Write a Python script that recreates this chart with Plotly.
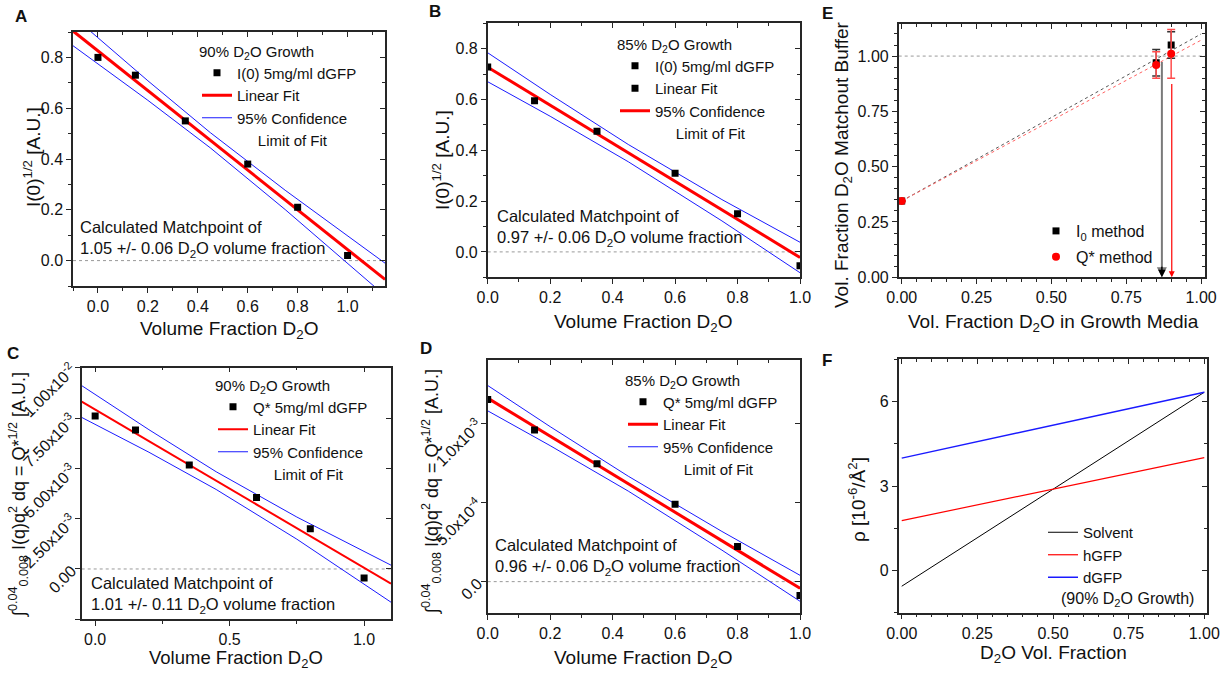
import plotly.graph_objects as go

# ---------------- data ----------------
vol_frac = [0.0, 0.15, 0.35, 0.6, 0.8, 1.0]

# Panel A (90% D2O growth, I(0))
a_pts = [0.80, 0.73, 0.55, 0.38, 0.21, 0.02]
a_fit_x = [-0.1, 0.2, 0.45, 0.75, 1.15]
a_fit = [0.904, 0.669, 0.474, 0.239, -0.074]
a_up = [0.962, 0.708, 0.504, 0.277, -0.010]
a_lo = [0.846, 0.631, 0.444, 0.201, -0.138]

# Panel B (85% D2O growth, I(0))
b_pts = [0.728, 0.595, 0.475, 0.31, 0.15, -0.055]
b_fit_x = [0.0, 0.2, 0.45, 0.75, 1.0]
b_fit = [0.727, 0.577, 0.389, 0.164, -0.022]
b_up = [0.784, 0.620, 0.423, 0.206, 0.038]
b_lo = [0.670, 0.534, 0.355, 0.122, -0.082]

# Panel C (90% D2O growth, Q*)
c_pts = [7.6e-3, 6.9e-3, 5.17e-3, 3.55e-3, 2.0e-3, -0.45e-3]
c_fit_x = [-0.05, 0.2, 0.45, 0.75, 1.1]
c_fit = [8.32e-3, 6.36e-3, 4.39e-3, 2.03e-3, -0.73e-3]
c_up = [9.11e-3, 6.92e-3, 4.83e-3, 2.58e-3, 0.19e-3]
c_lo = [7.53e-3, 5.80e-3, 3.95e-3, 1.48e-3, -1.65e-3]
c_tickvals = [-2.5e-3, 0.0, 2.5e-3, 5.0e-3, 7.5e-3, 1.0e-2]
c_ticktext = ["-2.50x10<sup>-3</sup>", "0.00", "2.50x10<sup>-3</sup>",
              "5.00x10<sup>-3</sup>", "7.50x10<sup>-3</sup>", "1.00x10<sup>-2</sup>"]

# Panel D (85% D2O growth, Q*)
d_pts = [11.5e-4, 9.58e-4, 7.45e-4, 4.89e-4, 2.22e-4, -0.88e-4]
d_fit_x = [0.0, 0.2, 0.45, 0.75, 1.0]
d_fit = [11.59e-4, 9.19e-4, 6.19e-4, 2.58e-4, -0.42e-4]
d_up = [12.39e-4, 9.79e-4, 6.66e-4, 3.17e-4, 0.40e-4]
d_lo = [10.79e-4, 8.59e-4, 5.72e-4, 1.99e-4, -1.24e-4]
d_tickvals = [0.0, 5.0e-4, 1.0e-3]
d_ticktext = ["0.0", "5.0x10<sup>-4</sup>", "1.0x10<sup>-3</sup>"]

# Panel E
e_x = [0.0, 0.85, 0.9]
e_i0 = [0.345, 0.97, 1.05]
e_i0_err = [0.0, 0.06, 0.06]
e_q = [0.345, 0.96, 1.01]
e_q_err = [0.0, 0.06, 0.11]
e_fit_x = [0.0, 1.0]
e_i0_fit = [0.345, 1.10]
e_q_fit = [0.345, 1.072]
e_match_x = [0.869, 0.902]
e_match_top = [0.98, 0.88]

# Panel F
f_x = [0.0, 1.0]
f_solvent = [-0.56, 6.33]
f_hgfp = [1.77, 4.01]
f_dgfp = [3.99, 6.33]

# ---------------- style ----------------
W, H = 1228, 674
FONT = "Liberation Sans, Arial, sans-serif"
AX = "#262626"
RED = "#ff0000"
BLUE = "#1a1aff"


def dx(l, r):
    return [l / W, r / W]


def dy(t, b):
    return [1 - b / H, 1 - t / H]


fig = go.Figure()
layout_axes = {}


def add_panel_axes(k, xdom, ydom, xr, yr, xt, yt):
    xid = "x" if k == 1 else f"x{k}"
    yid = "y" if k == 1 else f"y{k}"
    xo, yo = f"x{k + 6}", f"y{k + 6}"
    common = dict(showgrid=False, zeroline=False, showline=True, linecolor=AX,
                  linewidth=1.5, tickcolor=AX, tickwidth=1.2, ticklen=5, automargin=False,
                  tickfont=dict(size=16, color="#111", family=FONT))

    def build(t, inside):
        d = dict(common)
        d["ticks"] = "inside" if inside else "outside"
        t = dict(t)
        mdt = t.pop("minor", None)
        d.update(t)
        if mdt is not None:
            d["minor"] = dict(ticks="inside" if inside else "outside", ticklen=3,
                              tickcolor=AX, tickwidth=1, dtick=mdt, tick0=0, showgrid=False)
        if inside:
            d["showticklabels"] = False
        return d

    xa = build(xt, False)
    xa.update(domain=xdom, range=xr, anchor=yid)
    ya = build(yt, False)
    ya.update(domain=ydom, range=yr, anchor=xid)
    xa2 = build(xt, True)
    xa2.update(domain=xdom, range=xr, anchor=yid, overlaying=xid, side="top")
    ya2 = build(yt, True)
    ya2.update(domain=ydom, range=yr, anchor=xid, overlaying=yid, side="right")
    layout_axes["xaxis" if k == 1 else f"xaxis{k}"] = xa
    layout_axes["yaxis" if k == 1 else f"yaxis{k}"] = ya
    layout_axes[f"xaxis{k + 6}"] = xa2
    layout_axes[f"yaxis{k + 6}"] = ya2
    fig.add_trace(go.Scatter(x=[None], y=[None], xaxis=xo, yaxis=yo,
                             showlegend=False, hoverinfo="skip"))
    return xid, yid


def fit_panel(xid, yid, leg, fx, fit, up, lo, pts, pts_name, redw, quirky=False):
    fig.add_trace(go.Scatter(x=fx, y=up, mode="lines", line=dict(color=BLUE, width=1),
                             xaxis=xid, yaxis=yid, legend=leg, name="95% Confidence",
                             showlegend=not quirky, legendrank=3))
    fig.add_trace(go.Scatter(x=fx, y=lo, mode="lines", line=dict(color=BLUE, width=1),
                             xaxis=xid, yaxis=yid, showlegend=False))
    fig.add_trace(go.Scatter(x=fx, y=fit, mode="lines", line=dict(color=RED, width=redw),
                             xaxis=xid, yaxis=yid, legend=leg,
                             name="95% Confidence" if quirky else "Linear Fit",
                             legendrank=3 if quirky else 2))
    fig.add_trace(go.Scatter(x=vol_frac, y=pts, mode="markers",
                             marker=dict(symbol="square", size=7, color="black"),
                             xaxis=xid, yaxis=yid, legend=leg, name=pts_name, legendrank=1))
    if quirky:
        fig.add_trace(go.Scatter(x=[None], y=[None], mode="markers",
                                 marker=dict(symbol="square", size=7, color="black"),
                                 xaxis=xid, yaxis=yid, legend=leg, name="Linear Fit",
                                 legendrank=2))
    fig.add_trace(go.Scatter(x=[None], y=[None], mode="lines",
                             line=dict(color="rgba(0,0,0,0)", width=0),
                             xaxis=xid, yaxis=yid, legend=leg,
                             name="\u00a0\u00a0\u00a0\u00a0\u00a0Limit of Fit", legendrank=4))


tick02 = dict(dtick=0.2, tick0=0, tickformat=".1f", minor=0.1)

# Panel A
xa, ya = add_panel_axes(1, dx(73, 385), dy(32, 286), [-0.1, 1.15], [-0.1, 0.9], tick02, tick02)
fit_panel(xa, ya, "legend", a_fit_x, a_fit, a_up, a_lo, a_pts, "I(0) 5mg/ml dGFP", 3)

# Panel B
xb, yb = add_panel_axes(2, dx(487.7, 800), dy(23.3, 277.3), [0, 1], [-0.1, 0.9], tick02, tick02)
fit_panel(xb, yb, "legend2", b_fit_x, b_fit, b_up, b_lo, b_pts, "I(0) 5mg/ml dGFP", 3, quirky=True)

# Panel C
xc, yc = add_panel_axes(3, dx(81.7, 391), dy(367.7, 619.3), [-0.05, 1.1], [-2.5e-3, 1.0e-2],
                        dict(dtick=0.5, tick0=0, tickformat=".1f", minor=0.25),
                        dict(tickmode="array", tickvals=c_tickvals, ticktext=c_ticktext, tickangle=-45))
fit_panel(xc, yc, "legend3", c_fit_x, c_fit, c_up, c_lo, c_pts, "Q* 5mg/ml dGFP", 2)

# Panel D
xd, yd = add_panel_axes(4, dx(487.7, 800), dy(360, 613.3), [0, 1], [-2.0e-4, 1.4e-3], tick02,
                        dict(tickmode="array", tickvals=d_tickvals, ticktext=d_ticktext, tickangle=-45))
fit_panel(xd, yd, "legend4", d_fit_x, d_fit, d_up, d_lo, d_pts, "Q* 5mg/ml dGFP", 3)

# Panel E
tick25 = dict(dtick=0.25, tick0=0, tickformat=".2f", minor=0.05)
xe, ye = add_panel_axes(5, dx(898.7, 1205), dy(24, 277.3), [-0.01, 1.013], [0, 1.145], tick25, tick25)
fig.add_trace(go.Scatter(x=e_fit_x, y=e_i0_fit, mode="lines", line=dict(color="#555", width=1, dash="dot"),
                         xaxis=xe, yaxis=ye, showlegend=False))
fig.add_trace(go.Scatter(x=e_fit_x, y=e_q_fit, mode="lines", line=dict(color="#ff6060", width=1, dash="dot"),
                         xaxis=xe, yaxis=ye, showlegend=False))
fig.add_trace(go.Scatter(x=e_x, y=e_i0, mode="markers",
                         marker=dict(symbol="square", size=7, color="black"),
                         error_y=dict(type="data", array=e_i0_err, color="#333", thickness=1.5, width=4),
                         xaxis=xe, yaxis=ye, legend="legend5", name="I<sub>0</sub> method", legendgroup="e1"))
fig.add_trace(go.Scatter(x=e_x, y=e_q, mode="markers",
                         marker=dict(symbol="circle", size=8, color=RED),
                         error_y=dict(type="data", array=e_q_err, color="#ff4d4d", thickness=1.5, width=4),
                         xaxis=xe, yaxis=ye, legend="legend5", name="Q* method", legendgroup="e2"))

# Panel F
tickF = dict(dtick=3, tick0=0, tickformat="d", minor=1.5)
xf, yf = add_panel_axes(6, dx(898.7, 1206.7), dy(359.3, 612.7), [-0.01, 1.008], [-1.5, 7.5], tick25, tickF)
fig.add_trace(go.Scatter(x=f_x, y=f_solvent, mode="lines", line=dict(color="black", width=1),
                         xaxis=xf, yaxis=yf, legend="legend6", name="Solvent"))
fig.add_trace(go.Scatter(x=f_x, y=f_hgfp, mode="lines", line=dict(color=RED, width=1.2),
                         xaxis=xf, yaxis=yf, legend="legend6", name="hGFP"))
fig.add_trace(go.Scatter(x=f_x, y=f_dgfp, mode="lines", line=dict(color=BLUE, width=1.5),
                         xaxis=xf, yaxis=yf, legend="legend6", name="dGFP"))

# ---------------- shapes (reference lines) ----------------
shapes = []
for xid, yid, yval in [(xa, ya, 0), (xb, yb, 0), (xc, yc, 0), (xd, yd, 0), (xe, ye, 1.0)]:
    shapes.append(dict(type="line", xref=f"{xid} domain", yref=yid, x0=0, x1=1, y0=yval, y1=yval,
                       line=dict(color="#999", width=1, dash="dot"), layer="below"))

# ---------------- annotations ----------------
ann = []


def txt(text, x, y, size=16, xanchor="center", yanchor="middle", angle=0, bold=False, align="left"):
    ann.append(dict(text=f"<b>{text}</b>" if bold else text, x=x / W, y=1 - y / H,
                    xref="paper", yref="paper", showarrow=False, xanchor=xanchor,
                    yanchor=yanchor, textangle=angle, align=align,
                    font=dict(size=size, color="#111", family=FONT)))


# panel letters
txt("A", 13, 16, 17, xanchor="left", bold=True)
txt("B", 427, 12, 17, xanchor="left", bold=True)
txt("C", 5, 353, 17, xanchor="left", bold=True)
txt("D", 418, 349, 17, xanchor="left", bold=True)
txt("E", 820, 13, 17, xanchor="left", bold=True)
txt("F", 820, 360, 17, xanchor="left", bold=True)

vf = "Volume Fraction D<sub>2</sub>O"
iy = "I(0)<sup>1/2</sup> [A.U.]"
qy = "\u222b<sup>0.04</sup><sub>0.008</sub> I(q)q<sup>2</sup> dq = Q*<sup>1/2</sup> [A.U.]"
txt(vf, 229, 330, 19)
txt(vf, 643, 323, 19)
txt(vf, 236, 659, 18.5)
txt(vf, 643, 659, 19)
txt("Vol. Fraction D<sub>2</sub>O in Growth Media", 1053, 323, 19)
txt("D<sub>2</sub>O Vol. Fraction", 1053, 654, 19)
txt(iy, 32, 157, 19, angle=-90)
txt(iy, 441, 160, 19, angle=-90)
txt(qy, 18, 495, 18, angle=-90)
txt(qy, 431, 492, 18, angle=-90)
txt("Vol. Fraction D<sub>2</sub>O Matchout Buffer", 843, 165, 19, angle=-90)
txt("\u03c1 [10<sup>-6</sup>/\u00c5<sup>2</sup>]", 857, 500, 19, angle=-90)

mp = "Calculated Matchpoint of<br>{} D<sub>2</sub>O volume fraction"
txt(mp.format("1.05 +/- 0.06"), 78, 239, 16.5, xanchor="left")
txt(mp.format("0.97 +/- 0.06"), 495, 228, 16.5, xanchor="left")
txt(mp.format("1.01 +/- 0.11"), 89, 595, 16.5, xanchor="left")
txt(mp.format("0.96 +/- 0.06"), 493, 557, 16.5, xanchor="left")
txt("(90% D<sub>2</sub>O Growth)", 1127, 599, 16)

# matchpoint arrows in E (line, then a small dark arrowhead at the same x)
for mx, mt, col, w in [(e_match_x[0], e_match_top[0], "#7a7a7a", 2), (e_match_x[1], e_match_top[1], RED, 1.2)]:
    ann.append(dict(x=mx, y=0, ax=mx, ay=mt, xref=xe, yref=ye, axref=xe, ayref=ye,
                    showarrow=True, arrowhead=2, arrowsize=1, arrowwidth=w, arrowcolor=col,
                    text="", standoff=0))
ann.append(dict(x=e_match_x[0], y=0, ax=0, ay=-12, xref=xe, yref=ye,
                showarrow=True, arrowhead=2, arrowsize=1, arrowwidth=1.5, arrowcolor="black",
                text="", standoff=0))

# ---------------- legends ----------------
def leg(x, y, title=None, size=15, gap=0):
    d = dict(x=x / W, y=1 - y / H, xanchor="left", yanchor="top", bgcolor="rgba(0,0,0,0)",
             font=dict(size=size, color="#111", family=FONT), tracegroupgap=gap, borderwidth=0)
    if title:
        d["title"] = dict(text=title, side="top", font=dict(size=size, color="#111", family=FONT))
    return d


layout = dict(
    template="none",
    width=W, height=H, margin=dict(l=0, r=0, t=0, b=0, pad=0, autoexpand=False),
    paper_bgcolor="white", plot_bgcolor="white",
    font=dict(family=FONT, color="#111"),
    shapes=shapes, annotations=ann,
    legend=leg(197, 37, "90% D<sub>2</sub>O Growth"),
    legend2=leg(615, 30, "85% D<sub>2</sub>O Growth"),
    legend3=leg(213, 371, "90% D<sub>2</sub>O Growth"),
    legend4=leg(623, 366, "85% D<sub>2</sub>O Growth"),
    legend5=leg(1036, 214, None, 16, 2),
    legend6=leg(1043, 516, None, 15, 0),
    showlegend=True,
)
layout.update(layout_axes)
fig.update_layout(**layout)
fig.write_html("out.html")
